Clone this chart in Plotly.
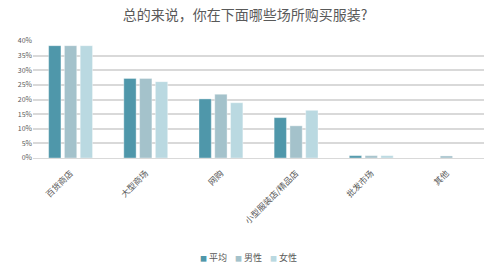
import plotly.graph_objects as go

categories = ["百货商店", "大型商场", "网购", "小型服装店/精品店", "批发市场", "其他"]
avg_vals = [38.4, 27.2, 20.2, 13.8, 0.8, 0.0]
male_vals = [38.4, 27.2, 21.8, 11.0, 0.8, 0.7]
female_vals = [38.4, 26.1, 18.9, 16.3, 0.8, 0.0]
series_names = ["平均", "男性", "女性"]
colors = ["#4f97aa", "#a4c2cb", "#bad9e1"]
tick_vals = [0, 5, 10, 15, 20, 25, 30, 35, 40]
tick_text = [f"{v}%" for v in tick_vals]

font_family = "Noto Sans CJK SC"
W, H = 490, 275
ML, MR, MT, MB = 33, 6, 41, 117

fig = go.Figure()
for name, vals, col in zip(series_names, [avg_vals, male_vals, female_vals], colors):
    fig.add_trace(go.Bar(
        x=categories, y=vals, name=name, showlegend=False,
        marker=dict(color=col, line=dict(color="rgba(255,255,255,0.6)", width=0.6)),
    ))

# compact legend row below the chart: small colour square + series name
plot_w = W - ML - MR
plot_h = H - MT - MB
legend_left_px, legend_step_px, legend_y_px = 198, 35, 257
for i, (name, col) in enumerate(zip(series_names, colors)):
    px = legend_left_px + i * legend_step_px
    fig.add_annotation(
        xref="paper", yref="paper",
        x=(px - ML) / plot_w, y=(H - MB - legend_y_px) / plot_h,
        xanchor="left", yanchor="middle", showarrow=False,
        text=f"<span style='color:{col};font-size:7px'>■</span> {name}",
        font=dict(family=font_family, size=9, color="#595959"),
    )

fig.update_layout(
    width=W, height=H,
    margin=dict(l=ML, r=MR, t=MT, b=MB),
    paper_bgcolor="white", plot_bgcolor="white",
    barmode="group", bargap=0.37, bargroupgap=0.22,
    title=dict(text="总的来说，你在下面哪些场所购买服装?", x=0.5, xanchor="center",
               y=0.945, yanchor="middle",
               font=dict(family=font_family, size=14, color="#595959")),
    font=dict(family=font_family, color="#595959"),
    showlegend=False,
    xaxis=dict(tickangle=-45, tickfont=dict(size=8.5, color="#595959"),
               ticklabelstandoff=6, automargin=False,
               showline=True, linecolor="#d9d9d9", linewidth=1, ticks=""),
    yaxis=dict(range=[0, 40], tickvals=tick_vals, ticktext=tick_text,
               tickfont=dict(size=7, color="#595959"), automargin=False,
               showgrid=True, gridcolor="#d9d9d9", gridwidth=1.5,
               zeroline=False, ticks=""),
)

fig.write_html("out.html")
